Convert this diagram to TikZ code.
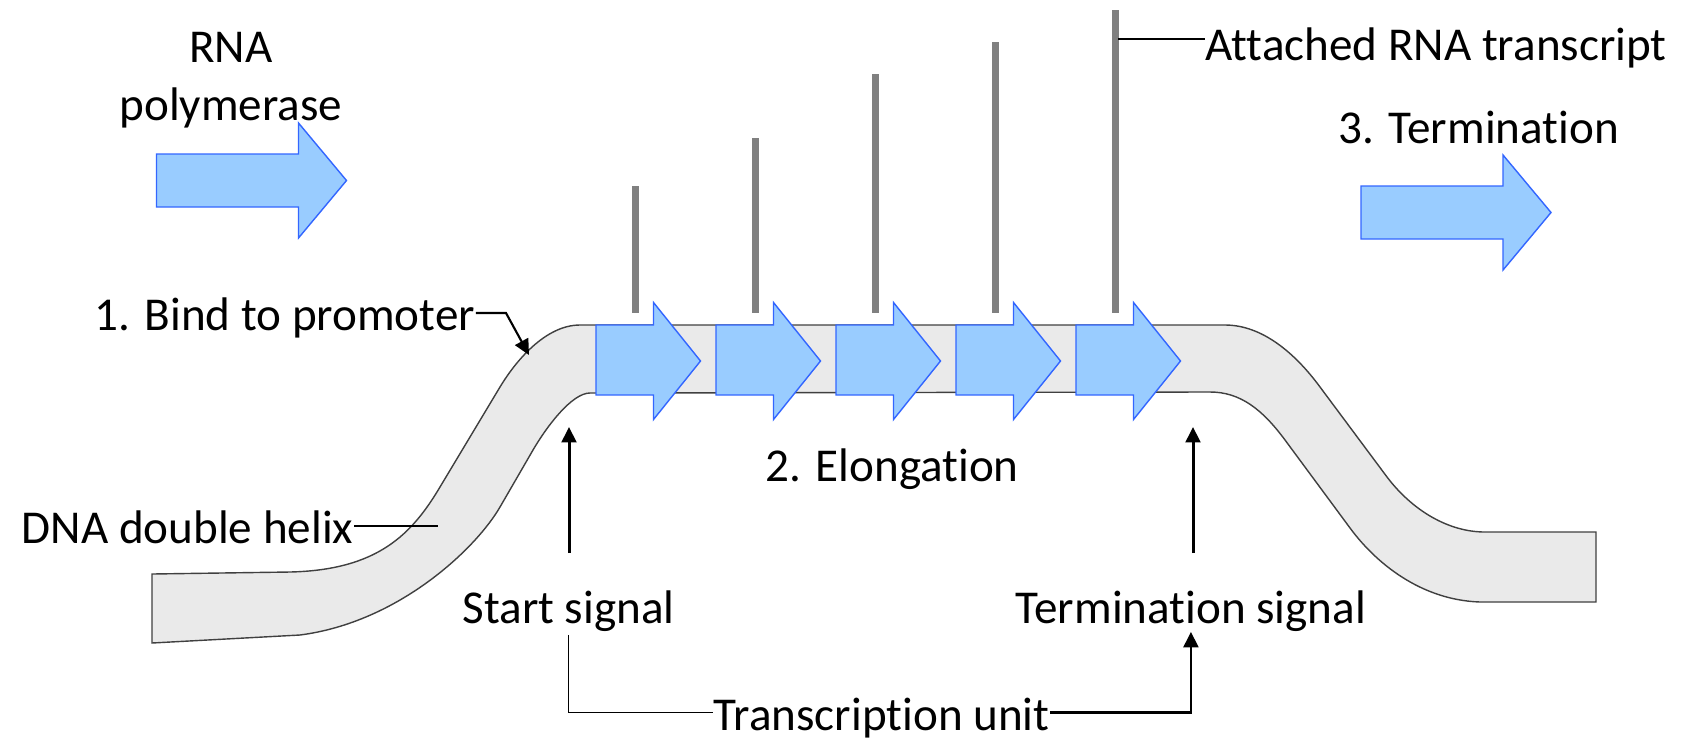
\documentclass[tikz,border=0pt]{standalone}
\usepackage{fontspec}
\setmainfont{Carlito}[Ligatures=NoCommon]
\usetikzlibrary{arrows.meta}
\definecolor{arrowfill}{HTML}{99CCFF}
\definecolor{arrowline}{HTML}{3366FF}
\definecolor{helixfill}{HTML}{EAEAEA}
\definecolor{helixline}{HTML}{404040}
\definecolor{rnagray}{HTML}{808080}

\begin{document}
\begin{tikzpicture}[x=0.01cm, y=-0.01cm,
		txt/.style={inner sep=0pt, anchor=base west, font=\fontsize{13.4}{16.3}\selectfont},
		polarrow/.style={draw=arrowline, fill=arrowfill, line width=0.4pt, line join=miter},
		pointer/.style={line width=0.85pt, -{Triangle[width=4.2pt,length=4.4pt]}},
		leader/.style={line width=0.4pt}]
			\useasboundingbox (0,0) rectangle (1698,742);

			% DNA double helix
			\draw[fill=helixfill, draw=helixline, line width=0.4pt] (152,574) -- (290,572) .. controls (378,570) and (412,534) .. (440,487) -- (500,387) .. controls (515,362) and (545,325) .. (580,325) -- (1225,325) .. controls (1262,325) and (1295,353) .. (1320,387) -- (1387,477) .. controls (1412,510) and (1448,532) .. (1485,532) -- (1596,532) -- (1596,602) -- (1480,602) .. controls (1420,600) and (1375,562) .. (1350,528) -- (1285,440) .. controls (1262,409) and (1240,392) .. (1210,392) -- (590,393) .. controls (572,393) and (547,426) .. (533,450) -- (500,507) .. controls (477,547) and (400,622) .. (300,635) -- (152,643) -- cycle;

			% polymerase arrows
			\draw[polarrow] (156.5,154) -- ++(142,0) -- ++(0,-31) -- ++(48,57.5) -- ++(-48,57.5) -- ++(0,-31) -- ++(-142,0) -- cycle;
			\draw[polarrow] (1361,186) -- ++(142,0) -- ++(0,-31) -- ++(48,57.5) -- ++(-48,57.5) -- ++(0,-31) -- ++(-142,0) -- cycle;
			\foreach \i in {0,...,4}
				\draw[polarrow] (596+120*\i,325) -- ++(57.5,0) -- ++(0,-22.5) -- ++(47,58.5) -- ++(-47,58.5) -- ++(0,-24.5) -- ++(-57.5,0) -- cycle;

			% RNA transcripts
			\foreach \i/\h in {0/186, 1/138, 2/74, 3/42, 4/10}
				\draw[rnagray, line width=2.2pt] (635.5+120*\i,\h) -- (635.5+120*\i,313);

			\node[txt, anchor=base, align=center] (polymerase) at (231,120) {RNA\\polymerase};
			\node[txt] (attached) at (1205,60) {Attached RNA transcript};
			\node[txt] (termination) at (1338,143) {3. Termination};
			\node[txt] (bind) at (94,330) {1. Bind to promoter};
			\node[txt] (helix) at (21,543) {DNA double helix};
			\node[txt] (elongation) at (765,481) {2. Elongation};
			\node[txt] (start) at (462,623) {Start signal};
			\node[txt] (termsignal) at (1015,623) {Termination signal};
			\node[txt] (unit) at (713,730) {Transcription unit};

			\coordinate (promoter) at (529,355);
			\coordinate (bindbend) at (506,313);
			\coordinate (helixpt) at (438,526);
			\coordinate (attachpt) at (1118,39);
			\coordinate (startpt) at (569,427);
			\coordinate (termpt) at (1193,427);

			\draw[pointer, line width=0.6pt] (bind.east |- bindbend) -- (bindbend) -- (promoter);
			\draw[leader] (helix.east |- helixpt) -- (helixpt);
			\draw[leader] (attachpt) -- (attachpt -| attached.west);
			\draw[pointer] (startpt) ++(0,126) -- (startpt);
			\draw[pointer] (termpt) ++(0,126) -- (termpt);
			\draw[leader] (start.south) ++(0,3) |- ([yshift=1.4pt]unit.west);
			\draw[pointer, line width=0.7pt] ([yshift=1.4pt]unit.east) -| (termsignal.south);
		\end{tikzpicture}
\end{document}
